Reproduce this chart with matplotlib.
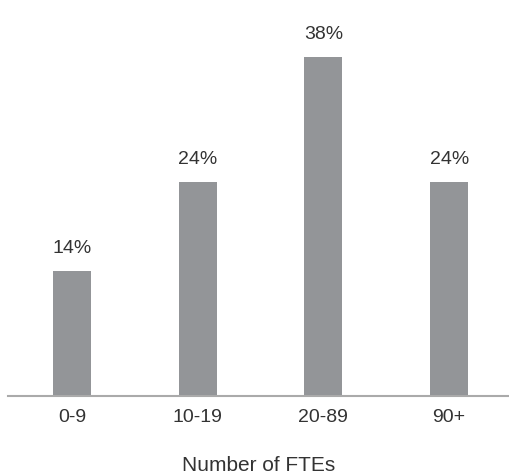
import matplotlib.pyplot as plt

categories = ['0-9', '10-19', '20-89', '90+']
shares = [14, 24, 38, 24]
value_labels = ['14%', '24%', '38%', '24%']

plt.rcParams['font.family'] = ['Liberation Sans', 'DejaVu Sans']

fig = plt.figure(figsize=(5.09, 4.77), dpi=100)
ax = fig.add_axes([8 / 509, 80 / 477, 1 - 8 / 509, 357 / 477])

x = range(len(categories))
bars = ax.bar(x, shares, width=0.302, color='#939598', zorder=2)

# percentage labels sit just above each bar
for rect, lab in zip(bars, value_labels):
    ax.annotate(lab, (rect.get_x() + rect.get_width() / 2, rect.get_height()),
                xytext=(0, 11), textcoords='offset points',
                ha='center', va='bottom', fontsize=14, color='#333333')

ax.set_xlim(-0.509, 3.476)
ax.set_ylim(0, 40)
ax.set_xticks(list(x))
ax.set_xticklabels(categories, fontsize=14, color='#333333')
ax.tick_params(axis='x', length=0, pad=9)
ax.set_yticks([])
ax.set_xlabel('Number of FTEs', fontsize=15, color='#333333', labelpad=21)

for side in ['top', 'right', 'left']:
    ax.spines[side].set_visible(False)
ax.spines['bottom'].set_color('#aaaaaa')
ax.spines['bottom'].set_linewidth(1.5)

fig.savefig('out.png', dpi=100)
